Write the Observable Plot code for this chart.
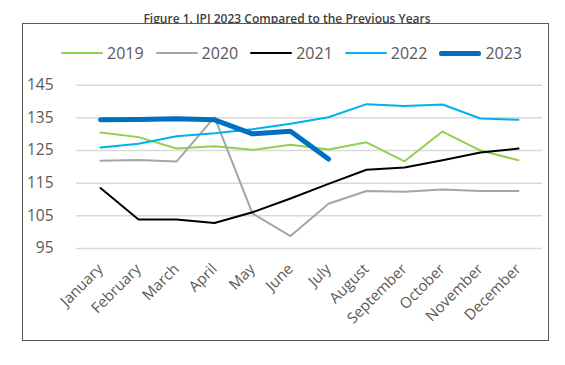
<!DOCTYPE html>
<html><head><meta charset="utf-8">
<script src="https://cdn.jsdelivr.net/npm/d3@7"></script>
<script src="https://cdn.jsdelivr.net/npm/@observablehq/plot@0.6"></script>
<style>
body{margin:0;background:#fff;font-family:"Open Sans",sans-serif;}
#wrap{position:relative;width:565px;height:365px;overflow:hidden;}
#title{position:absolute;left:0;width:574px;top:11px;text-align:center;font-size:12px;color:#404040;font-weight:600;line-height:16px;}
#box{position:absolute;left:22px;top:23px;width:525px;height:316px;border:1px solid #595959;background:#fff;}
#legend{position:absolute;left:61px;top:42px;display:flex;gap:12px;font-size:16px;color:#595959;line-height:22px;}
.item{display:flex;align-items:center;}
.sw{width:42px;margin-right:4px;}
#chart{position:absolute;left:22px;top:70px;}
</style></head><body>
<div id="wrap">
<div id="title">Figure 1. IPI 2023 Compared to the Previous Years</div>
<div id="box"></div>
<div id="legend"></div>
<div id="chart"></div>
</div>
<script>
const months = ["January","February","March","April","May","June","July","August","September","October","November","December"];
const years = ["2019","2020","2021","2022","2023"];
const colors = ["#92D050","#A5A5A5","#000000","#00B0F0","#0070C0"];
const widths = [2,2,2,2,5];
const v2019 = [130.5,129.1,125.6,126.3,125.2,126.8,125.3,127.5,121.7,130.8,125.0,122.0];
const v2020 = [121.9,122.1,121.6,135.2,105.7,98.8,108.7,112.6,112.4,113.1,112.6,112.6];
const v2021 = [113.5,103.9,103.9,102.8,106.1,110.3,114.8,119.1,119.8,122.0,124.4,125.6];
const v2022 = [125.9,127.1,129.4,130.3,131.5,133.2,135.2,139.2,138.6,139.1,134.8,134.4];
const v2023 = [134.4,134.5,134.7,134.4,130.1,130.9,122.4];
const yTicks = [95,105,115,125,135,145];

const series = [v2019,v2020,v2021,v2022,v2023];
const data = [];
series.forEach((vals,i)=>vals.forEach((v,j)=>data.push({year:years[i],month:months[j],value:v})));

const leg = document.getElementById("legend");
years.forEach((y,i)=>{
  const it=document.createElement("div");it.className="item";
  it.innerHTML=`<div class="sw" style="height:${i===4?5:2.5}px;background:${colors[i]};border-radius:2px"></div><span>${y}</span>`;
  leg.appendChild(it);
});

const plot = Plot.plot({
  width:526, height:268,
  marginLeft:54, marginRight:6, marginTop:14.7, marginBottom:90,
  style:{fontFamily:"Open Sans, sans-serif", color:"#595959", background:"transparent"},
  x:{type:"point", domain:months, padding:0.5, label:null},
  y:{domain:[95,145], label:null},
  marks:[
    Plot.gridY(yTicks,{stroke:"#D9D9D9",strokeOpacity:1,strokeWidth:1.5}),
    Plot.axisY(yTicks,{tickSize:0,tickPadding:23,fontSize:15.5,fill:"#595959"}),
    Plot.axisX({tickSize:0,tickRotate:-45,tickPadding:18,fontSize:15,fill:"#595959"}),
    ...years.map((y,i)=>Plot.line(data.filter(d=>d.year===y),{x:"month",y:"value",stroke:colors[i],strokeWidth:widths[i],strokeLinejoin:"round"}))
  ]
});
document.getElementById("chart").appendChild(plot);
</script>
</body></html>
